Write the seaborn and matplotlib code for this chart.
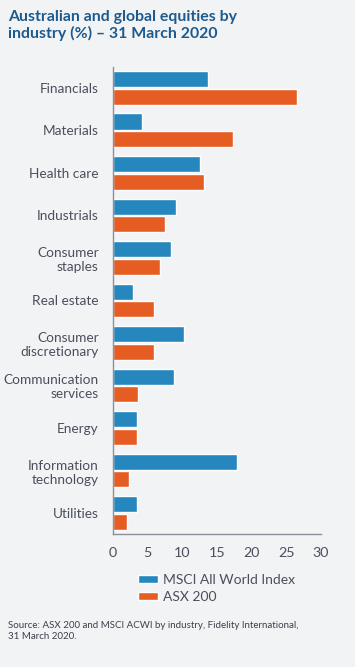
import pandas as pd
import seaborn as sns
import matplotlib.pyplot as plt

# sector weights (%)
industries = ['Financials', 'Materials', 'Health care', 'Industrials', 'Consumer\nstaples',
              'Real estate', 'Consumer\ndiscretionary', 'Communication\nservices', 'Energy',
              'Information\ntechnology', 'Utilities']
msci = [13.8, 4.3, 12.6, 9.2, 8.4, 3.0, 10.3, 8.9, 3.5, 17.9, 3.5]
asx = [26.5, 17.3, 13.1, 7.6, 6.9, 6.0, 5.9, 3.7, 3.5, 2.4, 2.1]
series = ['MSCI All World Index', 'ASX 200']
xticks = [0, 5, 10, 15, 20, 25, 30]

df = pd.DataFrame({
    'industry': industries * 2,
    'value': msci + asx,
    'index': [series[0]] * len(msci) + [series[1]] * len(asx),
})

bg = '#f2f3f5'
txt = '#4a4f5c'
sns.set_style('white')
plt.rcParams['font.family'] = ['Lato', 'DejaVu Sans']

fig = plt.figure(figsize=(3.55, 6.67), dpi=100, facecolor=bg)
ax = fig.add_axes([0.317, 0.199, 0.587, 0.701], facecolor=bg)

sns.barplot(data=df, y='industry', x='value', hue='index', orient='h',
            palette=['#2587be', '#e55d23'], width=0.84, gap=0.1,
            saturation=1, ax=ax, legend=True)

ax.set_xlim(0, 30)
ax.set_ylim(10.5, -0.5)
ax.set_xticks(xticks)
ax.set_xlabel('')
ax.set_ylabel('')
for s in ['top', 'right']:
    ax.spines[s].set_visible(False)
for s in ['left', 'bottom']:
    ax.spines[s].set_color('#8a8f99')
    ax.spines[s].set_linewidth(1.0)
ax.tick_params(axis='y', length=0, pad=10, labelsize=9.8, labelcolor=txt)
ax.tick_params(axis='x', direction='in', length=5, width=1, color='#8a8f99',
               pad=9, labelsize=10.3, labelcolor=txt)
for lab in ax.get_yticklabels():
    lab.set_horizontalalignment('right')
    lab.set_multialignment('right')

leg = ax.legend(loc='upper left', bbox_to_anchor=(0.09, -0.07), frameon=False,
                fontsize=10, handlelength=1.45, handleheight=0.5,
                handletextpad=0.35, labelspacing=0.35, borderpad=0)
for t in leg.get_texts():
    t.set_color(txt)

fig.text(0.023, 0.985, 'Australian and global equities by\nindustry (%) \u2013 31 March 2020',
         ha='left', va='top', fontsize=11.4, fontweight='bold', color='#1d5b8f',
         linespacing=1.2)
fig.text(0.023, 0.069, 'Source: ASX 200 and MSCI ACWI by industry, Fidelity International,\n31 March 2020.',
         ha='left', va='top', fontsize=7.0, color='#3a3f4a', linespacing=1.3)

fig.savefig('out.png', dpi=100, facecolor=bg)
